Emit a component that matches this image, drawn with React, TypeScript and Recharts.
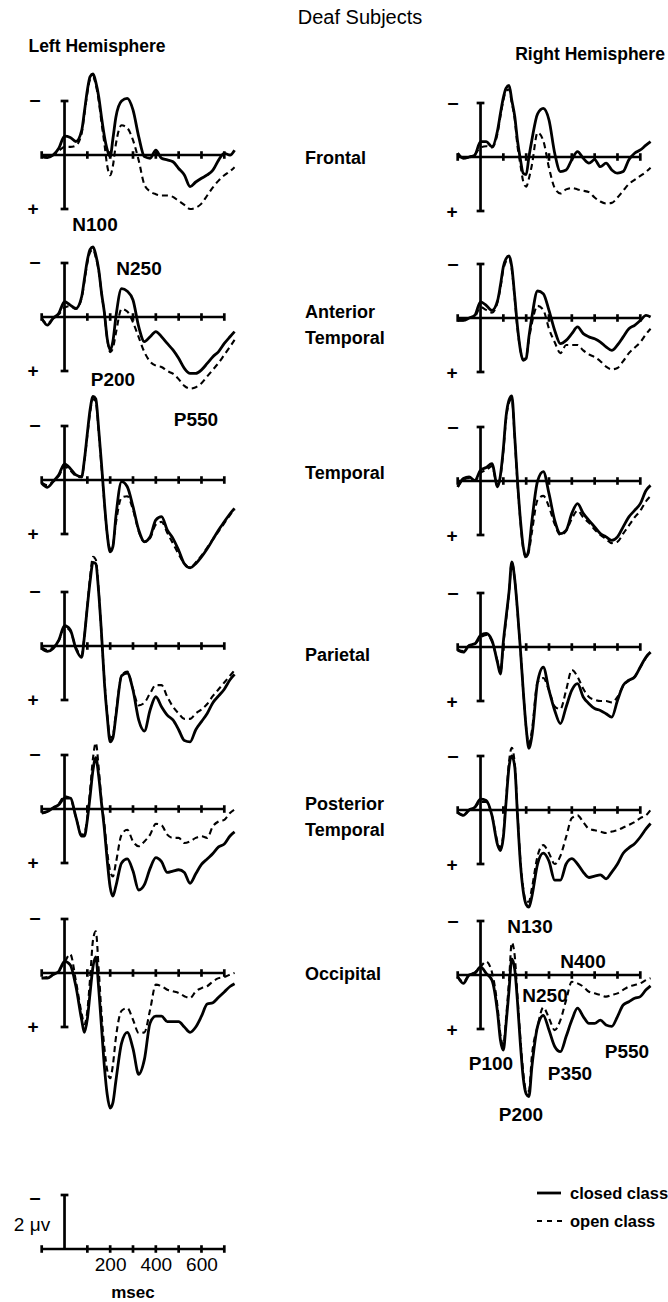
import React from 'react';
import { LineChart, Line, XAxis, YAxis, ReferenceLine } from 'recharts';

// ---------- data (µV, positive plotted downward; negative up) ----------
const TIME = [-100, -75, -50, -25, 0, 25, 50, 75, 87, 100, 112, 125, 137, 150, 162, 175, 187, 200, 212, 225, 250, 275, 300, 325, 350, 375, 400, 425, 450, 475, 500, 525, 550, 575, 600, 625, 650, 675, 700, 725, 745];

const LF_CLOSED = [0.06, 0.1, 0, -0.25, -0.7, -0.65, -0.5, -0.9, -1.6, -2.4, -2.9, -3.0, -2.7, -2.15, -1.4, -0.68, -0.2, 0.06, -0.6, -1.4, -2.0, -2.1, -1.67, -0.68, 0.06, 0.12, -0.18, 0.12, 0.18, 0.25, 0.5, 0.74, 1.17, 1.0, 0.86, 0.74, 0.56, 0.19, -0.06, 0.0, -0.18];
const LF_OPEN = [0.06, 0.08, 0, -0.15, -0.3, -0.3, -0.35, -0.8, -1.5, -2.3, -2.8, -2.9, -2.6, -2.0, -1.2, -0.4, 0.4, 0.75, 0.4, -0.4, -1.1, -1.0, -0.55, 0.2, 1.1, 1.35, 1.45, 1.5, 1.5, 1.55, 1.7, 1.85, 2.0, 1.95, 1.8, 1.5, 1.2, 0.95, 0.75, 0.6, 0.45];
const RF_CLOSED = [-0.14, 0.05, 0, -0.07, -0.57, -0.57, -0.38, -1.0, -1.6, -2.2, -2.55, -2.65, -2.1, -1.5, -0.6, 0.1, 0.6, 0.65, 0.0, -0.63, -1.6, -1.8, -1.37, -0.14, 0.54, 0.48, 0.1, -0.2, 0.05, 0.23, 0.1, 0.36, 0.23, 0.48, 0.6, 0.54, 0.1, -0.14, -0.26, -0.44, -0.57];
const RF_OPEN = [-0.14, 0.05, 0, -0.1, -0.35, -0.4, -0.35, -0.9, -1.5, -2.1, -2.45, -2.5, -2.0, -1.4, -0.4, 0.3, 0.9, 1.1, 0.8, 0.3, -0.9, -0.6, 0.4, 1.15, 1.35, 1.2, 1.15, 1.2, 1.25, 1.3, 1.5, 1.65, 1.72, 1.7, 1.5, 1.25, 1.0, 0.85, 0.7, 0.55, 0.4];

const LAT_CLOSED = [0.05, 0.3, 0.05, -0.14, -0.57, -0.44, -0.32, -0.75, -1.4, -2.1, -2.5, -2.6, -2.3, -1.74, -0.9, -0.14, 0.8, 1.22, 0.9, 0.0, -1.05, -0.95, -0.63, 0.36, 0.91, 0.73, 0.54, 0.73, 0.98, 1.22, 1.53, 1.9, 2.09, 2.09, 1.96, 1.72, 1.47, 1.28, 0.98, 0.73, 0.54];
const LAT_OPEN = [0.05, 0.25, 0.05, -0.1, -0.35, -0.4, -0.3, -0.7, -1.3, -2.0, -2.4, -2.5, -2.2, -1.7, -0.9, -0.1, 0.8, 1.3, 1.15, 0.6, -0.3, -0.2, 0.2, 0.75, 1.3, 1.65, 1.8, 1.85, 2.0, 2.1, 2.3, 2.55, 2.65, 2.6, 2.45, 2.2, 1.95, 1.7, 1.4, 1.1, 0.85];
const RAT_CLOSED = [0.09, 0.09, 0, -0.1, -0.6, -0.47, -0.28, -0.65, -1.2, -1.9, -2.2, -2.3, -1.9, -0.78, 0.33, 1.2, 1.57, 1.5, 0.7, -0.04, -1.0, -0.9, -0.28, 0.46, 0.95, 0.83, 0.58, 0.33, 0.58, 0.7, 0.77, 0.89, 1.07, 1.2, 1.0, 0.7, 0.4, 0.27, 0.09, -0.1, -0.04];
const RAT_OPEN = [0.09, 0.09, 0, -0.05, -0.4, -0.3, -0.2, -0.6, -1.1, -1.8, -2.1, -2.2, -1.8, -0.7, 0.4, 1.2, 1.55, 1.45, 0.8, 0.2, -0.45, -0.3, 0.4, 0.9, 1.3, 1.0, 1.0, 1.0, 1.2, 1.35, 1.45, 1.6, 1.8, 1.9, 1.85, 1.6, 1.3, 1.1, 0.9, 0.6, 0.4];

const LT_CLOSED = [0.12, 0.27, 0.06, -0.19, -0.6, -0.43, -0.19, -0.12, -0.74, -1.73, -2.6, -3.1, -3.0, -1.85, -0.6, 0.86, 2.0, 2.66, 2.47, 1.36, 0.06, 0.25, 0.99, 1.85, 2.28, 2.1, 1.48, 1.36, 1.85, 2.16, 2.6, 3.1, 3.25, 3.1, 2.85, 2.55, 2.2, 1.85, 1.55, 1.25, 1.05];
const LT_OPEN = [0.1, 0.2, 0.05, -0.15, -0.5, -0.35, -0.15, -0.1, -0.7, -1.65, -2.5, -3.0, -2.9, -1.75, -0.5, 0.9, 2.0, 2.55, 2.4, 1.6, 0.65, 0.6, 1.1, 1.9, 2.3, 2.15, 1.65, 1.55, 1.95, 2.35, 2.75, 3.1, 3.25, 3.05, 2.8, 2.5, 2.2, 1.9, 1.6, 1.3, 1.1];
const RT_CLOSED = [0.22, -0.09, -0.15, -0.02, -0.4, -0.5, -0.64, 0.22, -0.2, -1.2, -2.4, -3.0, -3.15, -1.63, 0.0, 1.46, 2.44, 2.8, 2.5, 1.5, 0.0, -0.35, 0.47, 1.46, 1.95, 1.83, 1.2, 0.84, 1.2, 1.46, 1.7, 1.95, 2.07, 2.2, 2.07, 1.7, 1.33, 1.09, 0.84, 0.35, 0.16];
const RT_OPEN = [0.22, -0.05, -0.1, 0, -0.3, -0.4, -0.55, 0.2, -0.15, -1.1, -2.3, -2.9, -3.05, -1.55, 0.1, 1.5, 2.5, 2.85, 2.6, 1.9, 0.7, 0.55, 0.96, 1.6, 2.0, 1.85, 1.4, 1.1, 1.35, 1.55, 1.8, 2.0, 2.15, 2.3, 2.25, 1.95, 1.65, 1.35, 1.1, 0.75, 0.55];

const LP_CLOSED = [0.09, 0.2, 0.09, -0.22, -0.75, -0.6, 0.1, 0.42, -0.35, -1.46, -2.4, -3.1, -3.05, -1.95, -0.47, 1.38, 2.6, 3.55, 3.4, 2.6, 1.1, 1.0, 1.63, 2.74, 3.15, 2.37, 1.88, 2.25, 2.56, 2.74, 3.1, 3.5, 3.55, 3.1, 2.8, 2.5, 2.1, 1.85, 1.6, 1.25, 1.05];
const LP_OPEN = [0.05, 0.15, 0.05, -0.2, -0.7, -0.55, 0.05, 0.35, -0.35, -1.5, -2.55, -3.3, -3.2, -2.0, -0.45, 1.3, 2.5, 3.4, 3.3, 2.5, 1.1, 0.95, 1.6, 2.2, 2.1, 1.75, 1.45, 1.45, 1.88, 2.25, 2.5, 2.7, 2.7, 2.5, 2.35, 2.15, 1.85, 1.6, 1.35, 1.1, 0.9];
const RP_CLOSED = [0.12, 0.19, -0.06, -0.12, -0.43, -0.5, -0.25, 0.6, 1.0, -0.2, -1.1, -2.05, -3.15, -2.5, -1.35, 0.12, 1.6, 3.0, 3.75, 3.3, 1.3, 0.75, 1.6, 2.35, 2.84, 2.22, 1.6, 1.36, 1.85, 2.1, 2.28, 2.35, 2.47, 2.6, 1.98, 1.42, 1.23, 1.11, 0.74, 0.37, 0.19];
const RP_OPEN = [0.1, 0.15, -0.05, -0.1, -0.35, -0.45, -0.2, 0.55, 0.95, -0.1, -1.0, -2.0, -3.15, -2.5, -1.3, 0.1, 1.6, 3.0, 3.6, 3.1, 1.3, 1.15, 1.6, 2.2, 2.3, 1.6, 0.85, 1.1, 1.55, 1.85, 1.95, 2.0, 2.0, 2.05, 1.85, 1.45, 1.25, 1.1, 0.75, 0.4, 0.2];

const LPT_CLOSED = [0.15, 0.09, -0.04, -0.16, -0.4, -0.4, 0.3, 1.0, 1.0, 0.4, -0.47, -1.46, -1.9, -1.2, -0.22, 0.77, 1.9, 2.9, 3.23, 2.86, 2.0, 1.85, 2.3, 3.0, 2.8, 2.2, 1.8, 1.95, 2.35, 2.3, 2.25, 2.35, 2.75, 2.4, 2.05, 1.85, 1.65, 1.4, 1.3, 1.0, 0.85];
const LPT_OPEN = [0.15, 0.09, -0.04, -0.2, -0.47, -0.4, 0.3, 0.95, 0.9, 0.3, -0.7, -1.9, -2.45, -1.5, -0.3, 0.6, 1.6, 2.3, 2.5, 2.0, 0.95, 0.77, 1.2, 1.38, 1.2, 0.95, 0.55, 0.6, 0.95, 1.07, 1.07, 1.26, 1.2, 1.07, 1.01, 1.07, 0.64, 0.46, 0.4, 0.15, 0.02];
const RPT_CLOSED = [0.1, 0.2, 0.0, -0.1, -0.4, -0.35, 0.2, 1.3, 1.5, 1.0, -0.3, -1.6, -2.0, -1.6, 0.2, 2.0, 3.0, 3.5, 3.6, 3.2, 2.0, 1.6, 1.9, 2.6, 2.6, 2.0, 1.8, 2.0, 2.3, 2.5, 2.45, 2.4, 2.55, 2.3, 2.0, 1.6, 1.4, 1.25, 1.0, 0.7, 0.5];
const RPT_OPEN = [0.1, 0.2, 0.0, -0.1, -0.3, -0.3, 0.2, 1.2, 1.4, 0.9, -0.4, -1.8, -2.3, -1.7, 0.1, 1.9, 2.9, 3.4, 3.4, 2.9, 1.7, 1.3, 1.6, 2.0, 1.7, 1.0, 0.3, 0.2, 0.45, 0.7, 0.75, 0.8, 0.85, 0.8, 0.75, 0.65, 0.55, 0.45, 0.3, 0.2, 0.0];

const LO_CLOSED = [0.19, 0.19, 0.06, -0.06, -0.43, -0.3, 0.5, 1.73, 2.2, 1.7, 0.74, -0.25, -0.6, 0.6, 2.0, 3.5, 4.5, 5.0, 4.8, 4.0, 2.6, 2.2, 2.8, 3.75, 3.2, 1.85, 1.6, 1.6, 1.8, 1.8, 1.8, 2.0, 2.2, 2.0, 1.6, 1.15, 1.1, 0.9, 0.7, 0.5, 0.4];
const LO_OPEN = [0.19, 0.15, 0.06, -0.1, -0.4, -0.7, 0.3, 1.5, 1.9, 1.4, 0.2, -1.23, -1.54, -0.1, 1.5, 2.8, 3.6, 3.9, 3.4, 2.4, 1.4, 1.3, 1.73, 2.22, 2.2, 1.36, 0.43, 0.49, 0.62, 0.68, 0.74, 0.86, 0.93, 0.68, 0.56, 0.49, 0.31, 0.19, 0.15, 0.06, 0.0];
const RO_CLOSED = [0.06, 0.31, 0, -0.06, -0.3, -0.06, 0.19, 1.42, 2.4, 2.78, 1.8, 0.55, -0.6, -0.2, 1.0, 2.6, 3.8, 4.4, 4.5, 3.4, 1.9, 1.5, 2.04, 2.65, 2.84, 2.28, 1.67, 1.23, 1.54, 1.79, 1.79, 1.67, 1.85, 1.9, 1.54, 1.11, 0.99, 0.86, 0.8, 0.55, 0.4];
const RO_OPEN = [0.06, 0.25, 0, -0.1, -0.3, -0.5, -0.1, 1.2, 2.2, 2.6, 1.6, 0.2, -1.2, -0.7, 0.8, 2.4, 3.6, 4.3, 4.3, 3.0, 1.9, 1.2, 1.6, 2.04, 1.67, 0.93, 0.25, 0.31, 0.43, 0.62, 0.68, 0.74, 0.8, 0.74, 0.68, 0.55, 0.43, 0.37, 0.31, 0.19, 0.12];

const TICKS = [-100, 100, 200, 300, 400, 500, 600, 700];
const SCALE_LABELS = [200, 400, 600];

const ROW_NAMES = [['Frontal'], ['Anterior', 'Temporal'], ['Temporal'], ['Parietal'], ['Posterior', 'Temporal'], ['Occipital']];
const LEFT_SERIES = [[LF_CLOSED, LF_OPEN], [LAT_CLOSED, LAT_OPEN], [LT_CLOSED, LT_OPEN], [LP_CLOSED, LP_OPEN], [LPT_CLOSED, LPT_OPEN], [LO_CLOSED, LO_OPEN]];
const RIGHT_SERIES = [[RF_CLOSED, RF_OPEN], [RAT_CLOSED, RAT_OPEN], [RT_CLOSED, RT_OPEN], [RP_CLOSED, RP_OPEN], [RPT_CLOSED, RPT_OPEN], [RO_CLOSED, RO_OPEN]];

// ---------- layout ----------
const XMIN = -160, XMAX = 760, YMIN = -4, YMAX = 6;
const CW = 210;
const PX_MS = CW / (XMAX - XMIN);
const PX_UV = 27;
const CH = (YMAX - YMIN) * PX_UV;
const LEFT_X0 = 65;
const RIGHT_X0 = 481;
const LEFT_BASE = [155, 317, 480, 646, 809, 973];
const RIGHT_BASE = [157, 318, 481, 647, 810, 975];
const SCALE_BASE = 1249;
const FONT = '"Liberation Sans", Arial, Helvetica, sans-serif';
const AX = 2.7;

const Txt = ({ x, y, s, b, w, left, children }: any) => (
  <div style={{ position: 'absolute', left: x, top: y, transform: left ? 'translate(0,-50%)' : 'translate(-50%,-50%)', fontSize: s, fontWeight: w ? w : b ? 700 : 400, lineHeight: 1, whiteSpace: 'nowrap', color: '#000' }}>{children}</div>
);

const seg = (x1: number, y1: number, x2: number, y2: number, key: string, w = AX) => (
  <ReferenceLine key={key} segment={[{ x: x1, y: y1 }, { x: x2, y: y2 }]} stroke="#000" strokeWidth={w} ifOverflow="visible" />
);

function Panel({ x0, base, closed, open, scale }: any) {
  const data = TIME.map((t, i) => ({ t, c: closed ? closed[i] : null, o: open ? open[i] : null }));
  const left = x0 + XMIN * PX_MS;
  const top = base + YMIN * PX_UV;
  return (
    <div style={{ position: 'absolute', left, top }}>
      <LineChart width={CW} height={CH} data={data} margin={{ top: 0, right: 0, bottom: 0, left: 0 }}>
        <XAxis type="number" dataKey="t" domain={[XMIN, XMAX]} hide allowDataOverflow />
        <YAxis type="number" domain={[YMIN, YMAX]} reversed hide allowDataOverflow />
        {seg(-100, 0, 700, 0, 'base')}
        {TICKS.map((t) => seg(t, -0.14, t, 0.14, 'tk' + t))}
        {seg(0, -2, 0, scale ? 0 : 2, 'vbar')}
        {seg(-17, -2, 17, -2, 'capTop')}
        {!scale && seg(-17, 2, 17, 2, 'capBot')}
        {open && (
          <Line dataKey="o" type="monotone" stroke="#000" strokeWidth={2.1} strokeDasharray="6 4" dot={false} isAnimationActive={false} />
        )}
        {closed && (
          <Line dataKey="c" type="monotone" stroke="#000" strokeWidth={2.8} dot={false} isAnimationActive={false} />
        )}
      </LineChart>
    </div>
  );
}

export default function App() {
  return (
    <div style={{ position: 'absolute', left: 0, top: 0, width: 668, height: 1302, background: '#fff', fontFamily: FONT, overflow: 'hidden' }}>
      <Txt x={360} y={17} s={20}>Deaf Subjects</Txt>
      <Txt x={97} y={47} s={17.5} b>Left Hemisphere</Txt>
      <Txt x={590} y={55} s={17.5} b>Right Hemisphere</Txt>

      {LEFT_SERIES.map((s, i) => (
        <React.Fragment key={'L' + i}>
          <Panel x0={LEFT_X0} base={LEFT_BASE[i]} closed={s[0]} open={s[1]} />
          <Txt x={35} y={LEFT_BASE[i] - 56} s={20} w={900}>–</Txt>
          <Txt x={33} y={LEFT_BASE[i] + 53} s={19} w={900}>+</Txt>
        </React.Fragment>
      ))}
      {RIGHT_SERIES.map((s, i) => (
        <React.Fragment key={'R' + i}>
          <Panel x0={RIGHT_X0} base={RIGHT_BASE[i]} closed={s[0]} open={s[1]} />
          <Txt x={453} y={RIGHT_BASE[i] - 55} s={20} w={900}>–</Txt>
          <Txt x={452} y={RIGHT_BASE[i] + 54} s={19} w={900}>+</Txt>
        </React.Fragment>
      ))}

      {ROW_NAMES.map((lines, i) => {
        const c = (LEFT_BASE[i] + RIGHT_BASE[i]) / 2;
        const offs = lines.length === 1 ? [i === 2 ? -8 : i === 3 ? 8 : i === 0 ? 2 : 0] : [-6, 20];
        return lines.map((l, j) => (
          <Txt key={'n' + i + j} x={305} y={c + offs[j]} s={18} b left>{l}</Txt>
        ));
      })}

      {/* peak labels */}
      <Txt x={95} y={224} s={19} b>N100</Txt>
      <Txt x={139} y={268} s={19} b>N250</Txt>
      <Txt x={113} y={379} s={19} b>P200</Txt>
      <Txt x={196} y={419} s={19} b>P550</Txt>
      <Txt x={530} y={926} s={19} b>N130</Txt>
      <Txt x={583} y={961} s={19} b>N400</Txt>
      <Txt x={545} y={995} s={19} b>N250</Txt>
      <Txt x={491} y={1063} s={19} b>P100</Txt>
      <Txt x={570} y={1073} s={19} b>P350</Txt>
      <Txt x={627} y={1051} s={19} b>P550</Txt>
      <Txt x={521} y={1114} s={19} b>P200</Txt>

      {/* scale */}
      <Panel x0={LEFT_X0} base={SCALE_BASE} scale />
      <Txt x={35} y={SCALE_BASE - 52} s={20} w={900}>–</Txt>
      <Txt x={32} y={1224} s={19}>2 μv</Txt>
      {SCALE_LABELS.map((v) => (
        <Txt key={'sl' + v} x={LEFT_X0 + v * PX_MS} y={1264} s={19}>{v}</Txt>
      ))}
      <Txt x={133} y={1292} s={17} w={900}>msec</Txt>

      {/* legend */}
      <svg style={{ position: 'absolute', left: 530, top: 1180 }} width={40} height={50}>
        <line x1={7} y1={13} x2={31} y2={13} stroke="#000" strokeWidth={2.8} />
        <line x1={7} y1={41} x2={33} y2={41} stroke="#000" strokeWidth={2.1} strokeDasharray="5 5" />
      </svg>
      <Txt x={570} y={1193} s={16.5} b left>closed class</Txt>
      <Txt x={570} y={1221} s={16.5} b left>open class</Txt>
    </div>
  );
}
